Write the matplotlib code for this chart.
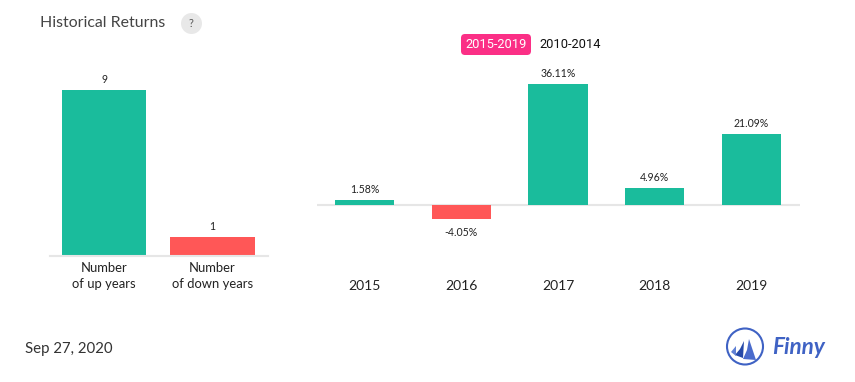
import matplotlib
matplotlib.use('Agg')
import matplotlib.pyplot as plt
from matplotlib.patches import Circle, Polygon, FancyBboxPatch

plt.rcParams['font.family'] = ['Lato', 'DejaVu Sans']

W, H = 855, 382

updown_labels = ['Number\nof up years', 'Number\nof down years']
updown_values = [9, 1]
updown_text = ['9', '1']

years = ['2015', '2016', '2017', '2018', '2019']
returns = [1.58, -4.05, 36.11, 4.96, 21.09]
return_text = ['1.58%', '-4.05%', '36.11%', '4.96%', '21.09%']

green = '#1abc9c'
red = '#ff5757'
grey = '#e6e6e6'
dark = '#222222'


def px_axes(fig, left, top, right, bottom):
    return fig.add_axes([left / W, 1 - bottom / H, (right - left) / W, (bottom - top) / H])


def clean(ax):
    for s in ax.spines.values():
        s.set_visible(False)
    ax.set_yticks([])
    ax.patch.set_alpha(0)
    ax.tick_params(axis='x', length=0)


fig = plt.figure(figsize=(W / 100, H / 100), dpi=100, facecolor='white')

# bars up / down
ax1 = px_axes(fig, 50, 90, 267.5, 255.5)
cols = [green if i == 0 else red for i in range(len(updown_values))]
ax1.bar(range(2), updown_values, width=0.778, color=cols, zorder=2)
ax1.set_xlim(-0.5, 1.509)
ax1.set_ylim(0, 9)
clean(ax1)
ax1.spines['bottom'].set_visible(True)
ax1.spines['bottom'].set_color(grey)
ax1.spines['bottom'].set_linewidth(1.5)
ax1.set_xticks(range(2))
ax1.set_xticklabels(updown_labels, fontsize=9.4, color=dark, linespacing=1.35)
ax1.tick_params(axis='x', pad=5)
for i, v in enumerate(updown_values):
    ax1.annotate(updown_text[i], (i, v), xytext=(0, 3.5), textcoords='offset points',
                 ha='center', va='bottom', fontsize=7.6, color=dark, annotation_clip=False)

# returns by year
ax2 = px_axes(fig, 317, 84, 800, 218.5)
cols2 = [green if v >= 0 else red for v in returns]
ax2.bar(range(5), returns, width=0.61, color=cols2, zorder=2)
ax2.axhline(0, color=grey, lw=1.5, zorder=1)
ax2.set_xlim(-0.49, 4.5)
ax2.set_ylim(-4.05, 36.11)
clean(ax2)
ax2.set_xticks(range(5))
ax2.set_xticklabels(years, fontsize=10, color=dark)
ax2.tick_params(axis='x', pad=44)
for i, v in enumerate(returns):
    off = 3.5 if v >= 0 else -6
    ax2.annotate(return_text[i], (i, v), xytext=(0, off), textcoords='offset points',
                 ha='center', va='bottom' if v >= 0 else 'top', fontsize=7.6,
                 color=dark, annotation_clip=False)

# overlay in pixel coords for header, toggle, date, logo
ov = fig.add_axes([0, 0, 1, 1], facecolor='none')
ov.set_xlim(0, W)
ov.set_ylim(H, 0)
ov.axis('off')

ov.text(40, 23, 'Historical Returns', fontsize=11.4, color='#444444', va='center')
ov.add_patch(Circle((191.5, 23.5), 10.5, color='#e8e8e8', lw=0))
ov.text(191.5, 23.5, '?', fontsize=8, color='#555555', ha='center', va='center')

ov.add_patch(FancyBboxPatch((461, 34), 70, 21, boxstyle='round,pad=0,rounding_size=4',
                            fc='#fb2f86', ec='none', lw=0))
ov.text(496, 44.5, '2015-2019', fontsize=9.3, color='white', ha='center', va='center', family='Roboto')
ov.text(570, 44.5, '2010-2014', fontsize=9.3, color='#111111', ha='center', va='center', family='Roboto')

ov.text(25, 348.5, 'Sep 27, 2020', fontsize=10.8, color='#333333', va='center')

# logo
blue = '#3f62c4'
ov.add_patch(Circle((745, 346.5), 18, fc='none', ec=blue, lw=1.5))
ov.add_patch(Polygon([(749, 339), (756, 360), (743, 359), (747, 350)], fc='#4a6bcc', lw=0))
ov.add_patch(Polygon([(744, 341), (743, 358), (735, 355), (740, 349)], fc='#2548a8', lw=0))
ov.add_patch(Polygon([(736, 346), (736, 356), (731, 352)], fc='#6080d4', lw=0))
ov.text(772, 347, 'Finny', fontsize=16.2, color=blue, style='italic', weight='bold', va='center')

fig.savefig('out.png', dpi=100)
